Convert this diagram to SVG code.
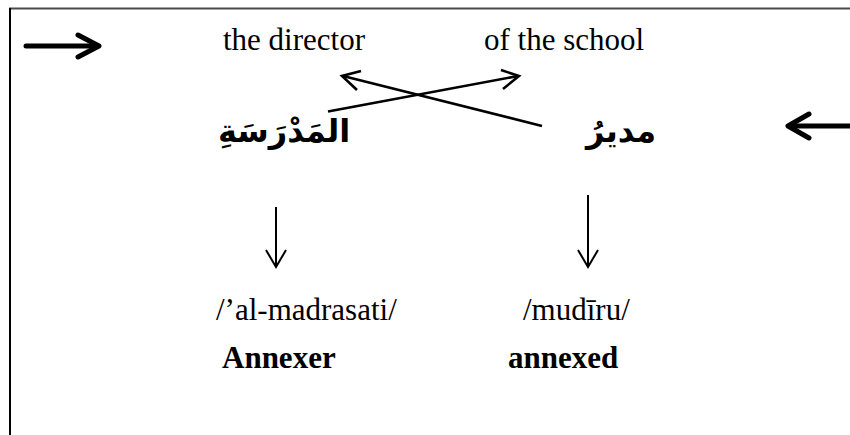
<svg xmlns="http://www.w3.org/2000/svg" width="850" height="435" viewBox="0 0 850 435">
<style>
.t{font-family:"Liberation Serif","Times New Roman",serif;font-size:31px;fill:#000}
.b{font-weight:bold}
.ar{font-family:"DejaVu Sans",sans-serif;font-size:32px;font-weight:bold;fill:#000}
.thick{stroke:#000;stroke-width:5;fill:none;stroke-linecap:round;stroke-linejoin:round}
.mid{stroke:#000;stroke-width:2.6;fill:none}
.thin{stroke:#000;stroke-width:2;fill:none}
</style>
<rect width="850" height="435" fill="#fff"/>
<g id="frame">
<line x1="9" y1="8.5" x2="850" y2="8.5" stroke="#4a4a4a" stroke-width="2"/>
<line x1="10" y1="8" x2="10" y2="435" stroke="#000" stroke-width="2"/>
</g>
<g id="dir-arrow-left">
<line class="thick" x1="26" y1="46" x2="97" y2="46"/>
<polyline class="thick" points="78,35 99,46 78,57"/>
</g>
<g id="dir-arrow-right">
<line class="thick" x1="790" y1="126" x2="852" y2="126"/>
<polyline class="thick" points="809,114 788,126 809,138"/>
</g>
<g id="gloss-director"><text class="t" x="223" y="50">the director</text></g>
<g id="gloss-school"><text class="t" x="484" y="50">of the school</text></g>
<g id="ar-madrasa"><text class="ar" x="284" y="142" text-anchor="middle" direction="rtl">المَدْرَسَةِ</text></g>
<g id="ar-mudir"><text class="ar" x="621" y="142" text-anchor="middle" direction="rtl">مديرُ</text></g>
<g id="tr-madrasati"><text class="t" x="216" y="320">/’al-madrasati/</text></g>
<g id="tr-mudiru"><text class="t" x="523" y="320">/mudīru/</text></g>
<g id="lbl-annexer"><text class="t b" x="222" y="368">Annexer</text></g>
<g id="lbl-annexed"><text class="t b" x="508" y="368">annexed</text></g>
<g id="connectors">
<line class="mid" x1="328" y1="111.5" x2="518" y2="76"/>
<polyline class="mid" points="501,70 519,76 503,89"/>
<line class="mid" x1="542" y1="126" x2="343" y2="76"/>
<polyline class="mid" points="361,71 342,76 357,90"/>
<line class="thin" x1="276" y1="207" x2="276" y2="266"/>
<polyline class="thin" points="266,250 276,267 286,250"/>
<line class="thin" x1="588" y1="195" x2="588" y2="266"/>
<polyline class="thin" points="578,250 588,267 598,250"/>
</g>
</svg>
